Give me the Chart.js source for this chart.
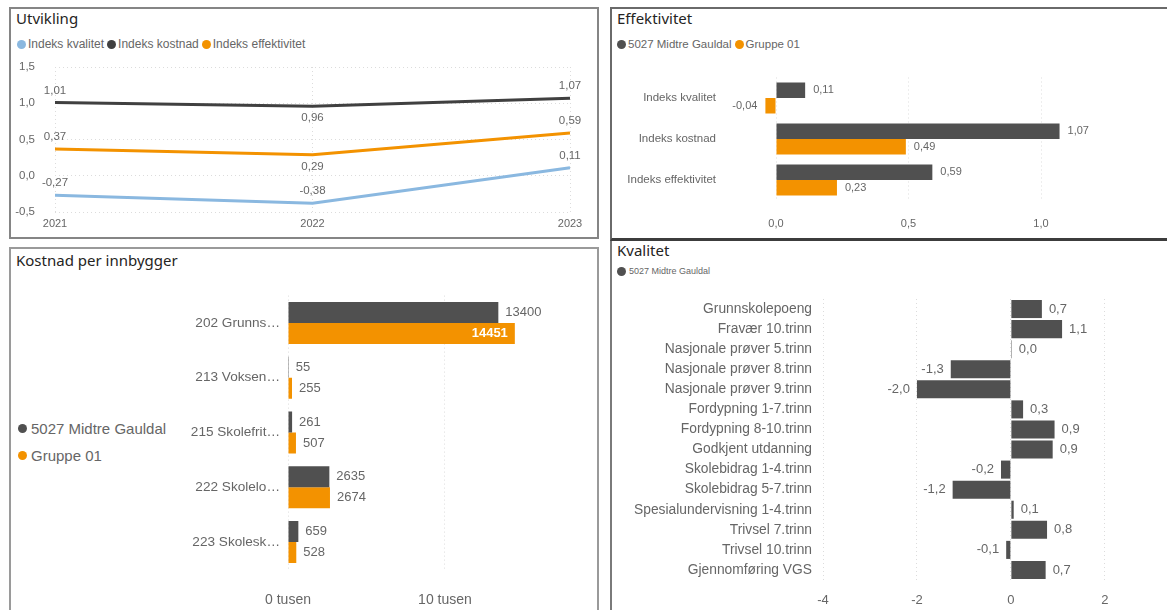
<!DOCTYPE html>
<html>
<head>
<meta charset="utf-8">
<script src="https://cdn.jsdelivr.net/npm/chart.js@4.4.1/dist/chart.umd.min.js"></script>
<style>
  body { margin: 0; width: 1167px; height: 610px; overflow: hidden; background: #fff; position: relative; font-family: "Liberation Sans", Arial, sans-serif; }
  .panel { position: absolute; box-sizing: border-box; }
  .title { position: absolute; font-family: "Noto Sans", sans-serif; font-size: 15px; line-height: 20px; color: #252423; }
  .legend { position: absolute; display: flex; align-items: center; color: #666; font-size: 12px; white-space: nowrap; }
  .legend i { display: inline-block; width: 9px; height: 9px; border-radius: 50%; margin: 0 2px 0 0; }
  .legend span { margin-right: 3px; }
  canvas { position: absolute; }
</style>
</head>
<body>

<div class="panel" style="left:9px;top:7px;width:590px;height:232px;border:2px solid #858585"></div>
<div class="panel" style="left:610px;top:7px;width:570px;height:234px;border-left:2px solid #6a6a6a;border-top:2px solid #6a6a6a;border-bottom:3px solid #3c3c3c"></div>
<div class="panel" style="left:9px;top:247px;width:590px;height:380px;border:2px solid #9a9a9a"></div>
<div class="panel" style="left:610px;top:241px;width:570px;height:380px;border-left:2px solid #7a7a7a"></div>

<div class="title" style="left:16px;top:8px">Utvikling</div>
<div class="legend" style="left:17px;top:37px">
  <i style="background:#8ab8e0"></i><span>Indeks kvalitet</span>
  <i style="background:#404040"></i><span>Indeks kostnad</span>
  <i style="background:#f39200"></i><span>Indeks effektivitet</span>
</div>

<div class="title" style="left:617px;top:8px">Effektivitet</div>
<div class="legend" style="left:617px;top:38px;font-size:11.5px">
  <i style="background:#505050"></i><span>5027 Midtre Gauldal</span>
  <i style="background:#f39200"></i><span>Gruppe 01</span>
</div>

<div class="title" style="left:16px;top:250px">Kostnad per innbygger</div>
<div class="legend" style="left:18px;top:419px;font-size:15px;flex-direction:column;align-items:flex-start">
  <div style="display:flex;align-items:center;height:18px"><i style="background:#505050;margin-right:4px"></i>5027 Midtre Gauldal</div>
  <div style="display:flex;align-items:center;height:18px;margin-top:9px"><i style="background:#f39200;margin-right:4px"></i>Gruppe 01</div>
</div>

<div class="title" style="left:617px;top:240px">Kvalitet</div>
<div class="legend" style="left:617px;top:266px;font-size:9px">
  <i style="background:#505050;margin-right:3px"></i><span>5027 Midtre Gauldal</span>
</div>

<canvas id="c1" width="588" height="178" style="left:10px;top:58px"></canvas>
<canvas id="c2" width="556" height="179" style="left:611px;top:58px"></canvas>
<canvas id="c3" width="588" height="325" style="left:10px;top:285px"></canvas>
<canvas id="c4" width="555" height="325" style="left:612px;top:285px"></canvas>

<script>
// Utvikling
const years = ["2021", "2022", "2023"];
const idxKvalitet = [-0.27, -0.38, 0.11];
const idxKostnad = [1.01, 0.96, 1.07];
const idxEffektivitet = [0.37, 0.29, 0.59];

// Effektivitet
const effCategories = ["Indeks kvalitet", "Indeks kostnad", "Indeks effektivitet"];
const effKommune = [0.11, 1.07, 0.59];
const effGruppe = [-0.04, 0.49, 0.23];

// Kostnad per innbygger
const costCategories = ["202 Grunns…", "213 Voksen…", "215 Skolefrit…", "222 Skolelo…", "223 Skolesk…"];
const costKommune = [13400, 55, 261, 2635, 659];
const costGruppe = [14451, 255, 507, 2674, 528];

// Kvalitet
const qualCategories = [
  "Grunnskolepoeng", "Fravær 10.trinn", "Nasjonale prøver 5.trinn", "Nasjonale prøver 8.trinn",
  "Nasjonale prøver 9.trinn", "Fordypning 1-7.trinn", "Fordypning 8-10.trinn", "Godkjent utdanning",
  "Skolebidrag 1-4.trinn", "Skolebidrag 5-7.trinn", "Spesialundervisning 1-4.trinn", "Trivsel 7.trinn",
  "Trivsel 10.trinn", "Gjennomføring VGS"
];
const qualKommune = [0.66, 1.09, 0.02, -1.28, -2.0, 0.26, 0.93, 0.89, -0.21, -1.24, 0.06, 0.77, -0.1, 0.74];

const DARK = "#505050";
const ORANGE = "#f39200";
const BLUE = "#8ab8e0";

Chart.defaults.font.family = "'Liberation Sans', Arial, sans-serif";
Chart.defaults.color = "#666";

const comma = (v, d) => v.toFixed(d).replace(".", ",");

// draws value labels next to bars / points
const valueLabels = {
  id: "valueLabels",
  afterDatasetsDraw(chart, args, opts) {
    if (!opts.format) return;
    const ctx = chart.ctx;
    const area = chart.chartArea;
    ctx.save();
    ctx.textBaseline = "middle";
    chart.data.datasets.forEach((ds, di) => {
      chart.getDatasetMeta(di).data.forEach((el, i) => {
        const v = ds.data[i];
        const txt = opts.format(v);
        ctx.font = opts.font;
        ctx.fillStyle = opts.color;
        if (chart.config.type === "line") {
          const below = ds.labelBelow && ds.labelBelow[i];
          ctx.textAlign = "center";
          ctx.fillText(txt, el.x, el.y + (below ? 12 : -12));
          return;
        }
        const pad = opts.pad;
        const w = ctx.measureText(txt).width;
        if (v < 0) {
          ctx.textAlign = "right";
          ctx.fillText(txt, el.x - pad, el.y);
        } else if (el.x + pad + w > area.right) {
          ctx.font = "bold " + opts.font;
          ctx.fillStyle = "#fff";
          ctx.textAlign = "right";
          ctx.fillText(txt, el.x - pad, el.y);
        } else {
          ctx.textAlign = "left";
          ctx.fillText(txt, el.x + pad, el.y);
        }
      });
    });
    ctx.restore();
  }
};
Chart.register(valueLabels);

// fixed axis sizes so the plot areas land where the dashboard has them
const fixWidth = w => s => { s.width = w; s.paddingTop = 0; s.paddingBottom = 0; };
const fixHeight = h => s => { s.height = h; s.paddingLeft = 0; s.paddingRight = 0; };
const dotted = { display: false, dash: [1, 3] };

new Chart(document.getElementById("c1"), {
  type: "line",
  data: {
    labels: years,
    datasets: [
      { label: "Indeks kvalitet", data: idxKvalitet, borderColor: BLUE },
      { label: "Indeks kostnad", data: idxKostnad, borderColor: "#404040", labelBelow: [false, true, false] },
      { label: "Indeks effektivitet", data: idxEffektivitet, borderColor: ORANGE, labelBelow: [false, true, false] }
    ]
  },
  options: {
    responsive: false,
    animation: false,
    layout: { padding: { top: 9, right: 28, left: 0, bottom: 0 } },
    elements: { point: { radius: 0 }, line: { borderWidth: 3, tension: 0 } },
    plugins: {
      legend: { display: false },
      tooltip: { enabled: false },
      valueLabels: { format: v => comma(v, 2), font: "11.5px 'Liberation Sans'", color: "#666" }
    },
    scales: {
      x: {
        offset: false,
        grid: { color: "#dcdcdc", drawTicks: false },
        border: dotted,
        ticks: { padding: 5, font: { size: 11 }, maxRotation: 0 },
        afterFit: fixHeight(24)
      },
      y: {
        min: -0.5, max: 1.5,
        grid: { color: "#dcdcdc", drawTicks: false },
        border: dotted,
        ticks: { stepSize: 0.5, padding: 20, font: { size: 11.5 }, callback: v => comma(v, 1) },
        afterFit: fixWidth(45)
      }
    }
  }
});

function hbar(id, labels, datasets, o) {
  return new Chart(document.getElementById(id), {
    type: "bar",
    data: { labels: labels, datasets: datasets },
    options: {
      indexAxis: "y",
      responsive: false,
      animation: false,
      layout: { padding: o.padding },
      datasets: { bar: { categoryPercentage: o.catPct, barPercentage: o.barPct } },
      plugins: {
        legend: { display: false },
        tooltip: { enabled: false },
        valueLabels: { format: o.format, font: o.labelFont, color: "#666", pad: o.labelPad }
      },
      scales: {
        x: {
          min: o.min, max: o.max,
          grid: { color: "#dcdcdc", drawTicks: false },
          border: dotted,
          ticks: { padding: o.xPad, font: { size: o.tickSize }, callback: o.tickFormat },
          afterBuildTicks: s => { s.ticks = o.ticks.map(v => ({ value: v })); },
          afterFit: fixHeight(o.xHeight)
        },
        y: {
          grid: { display: false, drawTicks: false },
          border: { display: false },
          ticks: { padding: o.yPad, font: { size: o.catSize }, autoSkip: false },
          afterFit: fixWidth(o.yWidth)
        }
      }
    }
  });
}

hbar("c2", effCategories, [
  { label: "5027 Midtre Gauldal", data: effKommune, backgroundColor: DARK },
  { label: "Gruppe 01", data: effGruppe, backgroundColor: ORANGE }
], {
  padding: { top: 19.5, right: 46.5, left: 0, bottom: 0 },
  catPct: 0.76, barPct: 1,
  min: -0.2, max: 1.3, ticks: [0, 0.5, 1],
  tickFormat: v => comma(v, 1), tickSize: 11, xPad: 17, xHeight: 36.5,
  yWidth: 112, yPad: 7, catSize: 11.5,
  format: v => comma(v, 2), labelFont: "11px 'Liberation Sans'", labelPad: 8
});

hbar("c3", costCategories, [
  { label: "5027 Midtre Gauldal", data: costKommune, backgroundColor: DARK },
  { label: "Gruppe 01", data: costGruppe, backgroundColor: ORANGE }
], {
  padding: { top: 10.6, right: 51, left: 0, bottom: 0 },
  catPct: 0.77, barPct: 1,
  min: 0, max: 16500, ticks: [0, 10000],
  tickFormat: v => (v / 1000) + " tusen", tickSize: 14, xPad: 22, xHeight: 40.6,
  yWidth: 278, yPad: 8, catSize: 13.6,
  format: v => String(v), labelFont: "13px 'Liberation Sans'", labelPad: 7
});

hbar("c4", qualCategories, [
  { label: "5027 Midtre Gauldal", data: qualKommune, backgroundColor: DARK }
], {
  padding: { top: 14, right: 34, left: 0, bottom: 0 },
  catPct: 1, barPct: 0.9,
  min: -4, max: 2.6, ticks: [-4, -2, 0, 2],
  tickFormat: v => String(v), tickSize: 13, xPad: 13, xHeight: 30,
  yWidth: 211, yPad: 11, catSize: 13.8,
  format: v => comma(v, 1), labelFont: "13px 'Liberation Sans'", labelPad: 7
});
</script>
</body>
</html>
